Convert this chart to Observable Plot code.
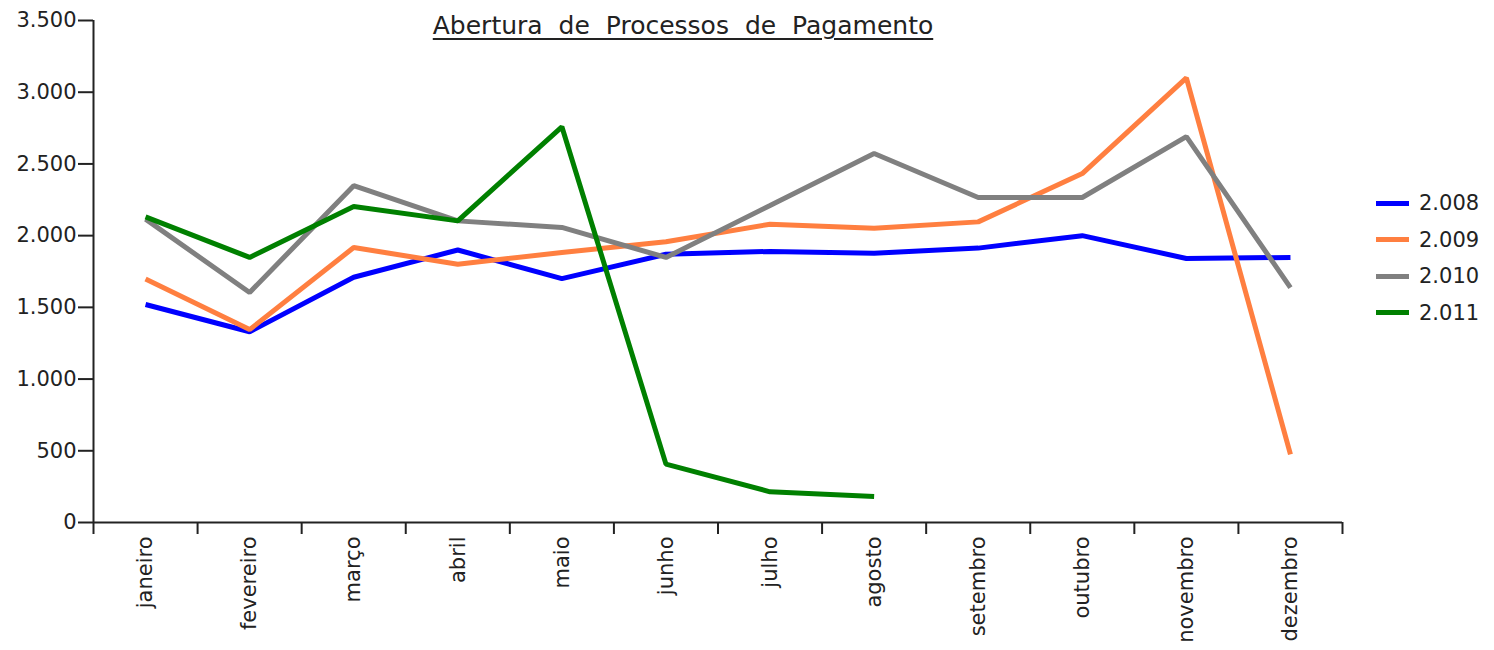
<!DOCTYPE html>
<html>
<head>
<meta charset="utf-8">
<script src="https://cdn.jsdelivr.net/npm/d3@7"></script>
<script src="https://cdn.jsdelivr.net/npm/@observablehq/plot@0.6"></script>
<style>
  html, body { margin: 0; padding: 0; background: #fff; }
  #wrap { position: relative; width: 1494px; height: 650px; font-family: "DejaVu Sans", Verdana, sans-serif; color: #222; }
  #title { position: absolute; left: 0; width: 1366px; top: 11px; text-align: center; font-size: 25px; text-decoration: underline; text-decoration-thickness: 2px; text-underline-offset: 4px; word-spacing: 8px; white-space: nowrap; }
  #legend { position: absolute; left: 1376px; top: 185px; }
  .row { display: flex; align-items: center; height: 36.5px; font-size: 21px; }
  .sw { width: 33px; height: 5px; margin-right: 10px; }
</style>
</head>
<body>
<div id="wrap">
  <div id="chart"></div>
  <div id="title">Abertura de Processos de Pagamento</div>
  <div id="legend"></div>
</div>
<script>
const months = ["janeiro","fevereiro","março","abril","maio","junho","julho","agosto","setembro","outubro","novembro","dezembro"];
const seriesNames = ["2.008","2.009","2.010","2.011"];
const seriesColors = ["#0000ff","#ff7f40","#808080","#008000"];
const v2008 = [1520,1330,1710,1900,1700,1870,1890,1878,1913,2000,1841,1848];
const v2009 = [1697,1345,1917,1801,1882,1957,2080,2052,2096,2433,3100,475];
const v2010 = [2115,1604,2348,2103,2057,1848,2210,2573,2266,2266,2690,1638];
const v2011 = [2131,1848,2203,2103,2759,407,214,181];
const yTicks = [0,500,1000,1500,2000,2500,3000,3500];

const seriesValues = [v2008, v2009, v2010, v2011];
const data = [];
seriesValues.forEach((vals, s) => vals.forEach((v, i) => data.push({series: seriesNames[s], month: i, value: v})));

const fmt = d3.formatLocale({decimal: ",", thousands: ".", grouping: [3]}).format(",d");
const monthIdx = months.map((m, i) => i);
const bounds = months.map((m, i) => i - 0.5).concat([months.length - 0.5]);

const chart = Plot.plot({
  width: 1494,
  height: 650,
  marginLeft: 93,
  marginRight: 152,
  marginTop: 20,
  marginBottom: 128,
  style: {fontFamily: "DejaVu Sans, Verdana, sans-serif", fontSize: "21px", color: "#222", background: "#fff"},
  x: {type: "linear", domain: [-0.5, months.length - 0.5], label: null},
  y: {domain: [0, 3500], label: null},
  color: {domain: seriesNames, range: seriesColors},
  marks: [
    Plot.axisY({ticks: yTicks, tickSize: 15, tickPadding: 2, tickFormat: fmt, strokeWidth: 2, fontSize: 21, label: null}),
    Plot.axisX({ticks: bounds, tickSize: 12, tickFormat: () => "", strokeWidth: 2, label: null}),
    Plot.axisX({ticks: monthIdx, tickSize: 0, tickPadding: 14, tickRotate: -90, tickFormat: i => months[i], fontSize: 21, label: null}),
    Plot.ruleY([0], {strokeWidth: 2}),
    Plot.ruleX([-0.5], {strokeWidth: 2}),
    Plot.line(data, {x: "month", y: "value", z: "series", stroke: "series", strokeWidth: 5, strokeLinejoin: "miter", strokeLinecap: "butt"})
  ]
});
document.getElementById("chart").appendChild(chart);

const legend = document.getElementById("legend");
seriesNames.forEach((name, i) => {
  const row = document.createElement("div");
  row.className = "row";
  const sw = document.createElement("div");
  sw.className = "sw";
  sw.style.background = seriesColors[i];
  const t = document.createElement("span");
  t.textContent = name;
  row.appendChild(sw);
  row.appendChild(t);
  legend.appendChild(row);
});
</script>
</body>
</html>
